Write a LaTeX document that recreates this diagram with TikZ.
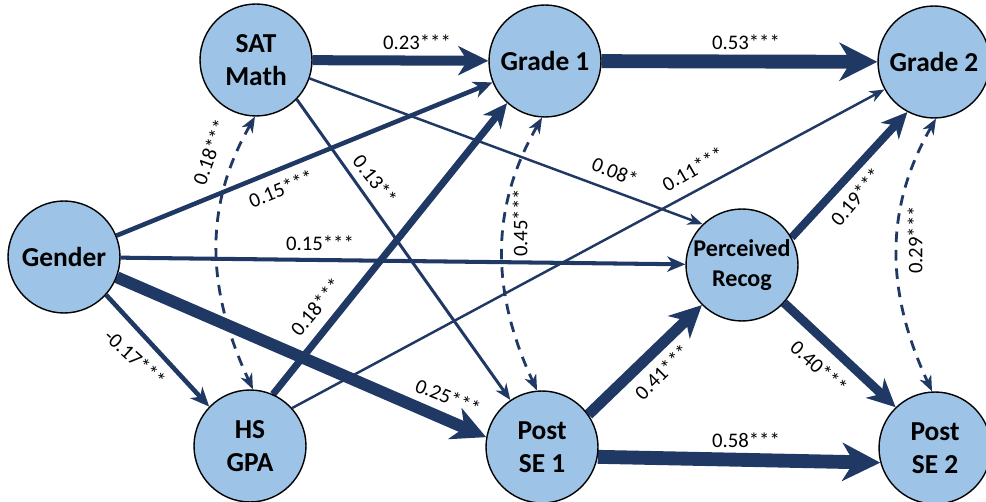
\documentclass[tikz,border=0pt]{standalone}
\usepackage{fontspec}
\setmainfont{Carlito}
\usetikzlibrary{arrows.meta}
\definecolor{navy}{HTML}{203864}
\definecolor{nodeblue}{HTML}{9DC3E6}
\pgfdeclarelayer{bg}
\pgfsetlayers{bg,main}
\begin{document}
\begin{tikzpicture}[x=0.02cm,y=-0.02cm,
  var/.style={circle, draw=black, line width=0.8pt, fill=nodeblue,
    minimum size=2.24cm, inner sep=0pt, align=center,
    font=\bfseries\fontsize{15.6}{19}\selectfont},
  tip/.tip={Stealth[length=5.67pt 2, width=3.4pt 2.3, inset'=0pt 0.3]},
  ar/.style={draw=navy, line width=#1, -tip},
  cov/.style={draw=navy, line width=1.6pt, dash pattern=on 6pt off 4.5pt, tip-tip},
  lbl/.style={font=\fontsize{11.8}{14}\selectfont, inner sep=0pt}
]
\useasboundingbox (0,0) rectangle (986,502);
% variables
\node[var] (sat)    at (256,60)  {SAT\\Math};
\node[var] (g1)     at (545,61)  {Grade 1};
\node[var] (g2)     at (934,62)  {Grade 2};
\node[var] (gender) at (64,257)  {Gender};
\node[var, font=\bfseries\fontsize{13.7}{17}\selectfont] (pr) at (742,265) {Perceived\\Recog};
\node[var] (hs)     at (250,446) {HS\\GPA};
\node[var] (pse1)   at (542,447) {Post\\SE 1};
\node[var] (pse2)   at (935,448) {Post\\SE 2};
% paths
\begin{pgfonlayer}{bg}
\draw[ar=5.7pt] (sat) -- (g1) node[lbl, at={(417,42)}] (l1) {0.23***};
\draw[ar=7.9pt] (g1) -- (g2) node[lbl, at={(746,42)}] (l2) {0.53***};
\draw[ar=7.9pt] (pse1.-10) -- (pse2.195) node[lbl, at={(746,440)}] (l3) {0.58***};
\draw[ar=2.6pt] (gender) -- (g1) node[lbl, at={(281,189)}, rotate=22] (l4) {0.15***};
\draw[ar=1.7pt] (sat.-44) -- (pse1.124) node[lbl, at={(375,180)}, rotate=-52] (l6) {0.13**};
\draw[ar=1.4pt] (sat.-19) -- (pr.134) node[lbl, at={(615,172)}, rotate=-22] (l7) {0.08*};
\draw[ar=1.4pt] (hs.42) -- (g2.209) node[lbl, at={(693,169)}, rotate=30] (l8) {0.11***};
\draw[ar=4pt] (hs.66) -- (g1.228) node[lbl, at={(316,307)}, rotate=50] (l11) {0.18***};
\draw[ar=2.3pt] (gender) -- (pr) node[lbl, at={(320,243)}] (l10) {0.15***};
\draw[ar=6.8pt] (gender.-21) -- (pse1.170) node[lbl, at={(448,397)}, rotate=-22] (l12) {0.25***};
\draw[ar=2.6pt] (gender.-42) -- (hs.136) node[lbl, at={(135,358)}, rotate=-42] (l13) {-0.17***};
\draw[ar=6.2pt] (pse1.35) -- (pr.225) node[lbl, at={(662,372)}, rotate=45] (l14) {0.41***};
\draw[ar=4.5pt] (pr.29) -- (g2.242) node[lbl, at={(856,197)}, rotate=50] (l15) {0.19***};
\draw[ar=5.1pt] (pr.-42) -- (pse2.134) node[lbl, at={(819,367)}, rotate=-42] (l16) {0.40***};
% covariances
\draw[cov] (sat.-91) to[out=240,in=115] (hs.87) node[lbl, at={(210,152)}, rotate=70] (l5) {0.18***};
\draw[cov] (g1.-93) to[out=240,in=115] (pse1.95) node[lbl, at={(520,223)}, rotate=90] (l9) {0.45***};
\draw[cov] (g2.-88) to[out=240,in=115] (pse2.93) node[lbl, at={(915,240)}, rotate=90] (l17) {0.29***};
\end{pgfonlayer}
\end{tikzpicture}
\end{document}
